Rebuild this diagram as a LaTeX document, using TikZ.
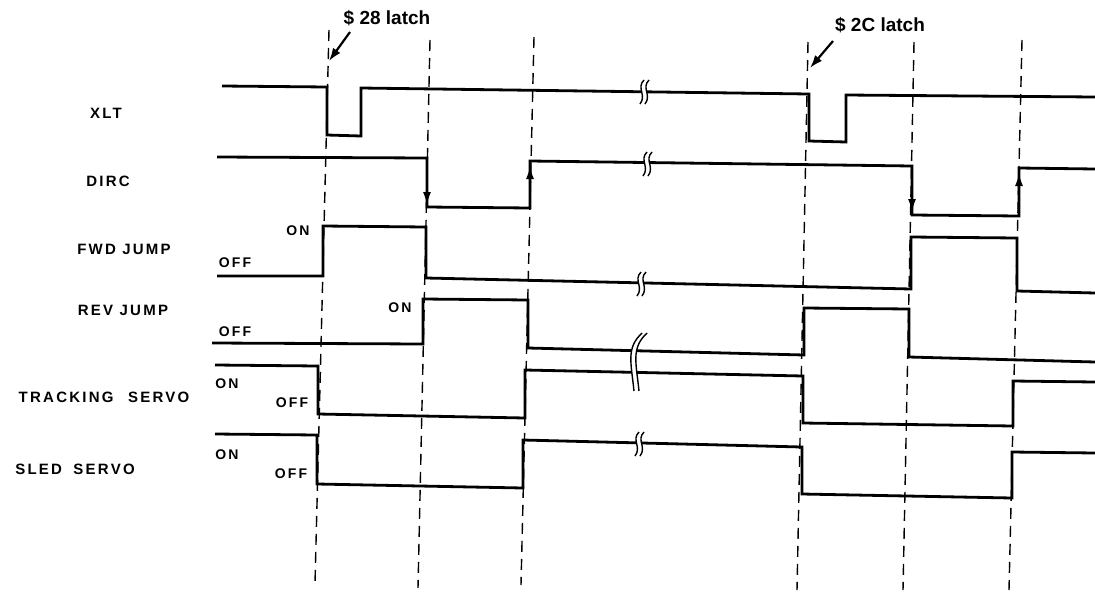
\documentclass[tikz,border=0pt]{standalone}
\usepackage{fontspec}
\setmainfont{Liberation Sans}
\newfontfamily\lblfont[LetterSpace=15]{Liberation Sans}
\usetikzlibrary{arrows.meta}
\begin{document}
\begin{tikzpicture}[x=1pt,y=-1pt,
  sig/.style={line width=2.8pt, line join=miter},
  guide/.style={line width=1.4pt, dash pattern=on 11pt off 7pt},
  lbl/.style={font=\lblfont\bfseries\fontsize{15}{17}\selectfont, inner sep=0pt},
  lvl/.style={font=\lblfont\bfseries\fontsize{14}{16}\selectfont, inner sep=0pt},
  latch/.style={font=\bfseries\fontsize{19}{21}\selectfont, inner sep=0pt},
  ptr/.style={line width=2.2pt, -{Latex[length=13pt,width=9pt]}},
  edgetip/.style={line width=1pt, -{Latex[length=12pt,width=8pt]}},
  brkline/.style={line width=1.4pt},
  brk/.pic={
    \fill[white] (2,-12) .. controls (-6,-4) and (5,3) .. (-2,12) -- (3,12) .. controls (10,3) and (-1,-4) .. (7,-12) -- cycle;
    \draw[brkline] (2,-12) .. controls (-6,-4) and (5,3) .. (-2,12);
    \draw[brkline] (7,-12) .. controls (-1,-4) and (10,3) .. (3,12);
  }
]
\useasboundingbox[fill=white] (0,0) rectangle (1095,603);

% guide lines
\coordinate (d1t) at (329,30);  \coordinate (d1b) at (315,583);
\coordinate (d2t) at (430,40);  \coordinate (d2b) at (418,588);
\coordinate (d3t) at (534,37);  \coordinate (d3b) at (521,585);
\coordinate (d4t) at (808,42);  \coordinate (d4b) at (797,590);
\coordinate (d5t) at (914,42);  \coordinate (d5b) at (903,590);
\coordinate (d6t) at (1022,40); \coordinate (d6b) at (1009,590);
\foreach \i in {1,...,6} { \draw[guide] (d\i t) -- (d\i b); }

% signal labels
\node[lbl] (xlt) at (106,113) {XLT};
\node[lbl] (dirc) at (108,181) {DIRC};
\node[lbl] (fwd) at (124,249) {FWD JUMP};
\node[lbl] (rev) at (123,310) {REV JUMP};
\node[lbl] (trk) at (104,397) {TRACKING\hspace{8pt} SERVO};
\node[lbl] (sled) at (75,469) {SLED\hspace{5pt} SERVO};

% level labels
\node[lvl] (fwdon) at (298,231) {ON};
\node[lvl] (fwdoff) at (235,263) {OFF};
\node[lvl] (revon) at (400,308) {ON};
\node[lvl] (revoff) at (235,332) {OFF};
\node[lvl] (trkon) at (227,384) {ON};
\node[lvl] (trkoff) at (292,403) {OFF};
\node[lvl] (sledon) at (227,455) {ON};
\node[lvl] (sledoff) at (291,474) {OFF};

% latch labels and pointers
\node[latch] (l28) at (387,18) {\$ 28 latch};
\node[latch] (l2c) at (880,25) {\$ 2C latch};
\coordinate (p28s) at (350,32); \coordinate (p28t) at (329,61);
\coordinate (p2cs) at (833,41); \coordinate (p2ct) at (810,68);
\draw[ptr] (p28s) -- (p28t);
\draw[ptr] (p2cs) -- (p2ct);

% XLT
\draw[sig] (222,86) -- (327,87) -- (327,135) -- (361,136) -- (361,88) -- (809,94)
  -- (809,141) -- (846,142) -- (846,95) -- (1095,97);
% DIRC
\draw[sig] (217,157) -- (427,158) -- (427,207) -- (530,208) -- (530,161) -- (912,166)
  -- (912,215) -- (1019,216) -- (1019,168) -- (1095,169);
\draw[edgetip] (427,185) -- (427,204);
\draw[edgetip] (530,192) -- (530,167);
\draw[edgetip] (912,192) -- (912,211);
\draw[edgetip] (1019,199) -- (1019,174);
% FWD JUMP
\draw[sig] (217,276) -- (323,276) -- (323,226) -- (426,227) -- (426,278) -- (911,289)
  -- (911,237) -- (1017,238) -- (1017,291) -- (1095,293);
% REV JUMP
\draw[sig] (212,343) -- (423,344) -- (423,299) -- (528,300) -- (528,348) -- (804,355)
  -- (804,308) -- (909,309) -- (909,357) -- (1095,362);
% TRACKING SERVO
\draw[sig] (215,365) -- (318,366) -- (318,414) -- (525,418) -- (525,370) -- (803,376)
  -- (803,423) -- (1013,426) -- (1013,381) -- (1095,382);
% SLED SERVO
\draw[sig] (215,434) -- (317,435) -- (317,484) -- (523,488) -- (523,440) -- (802,447)
  -- (802,494) -- (1012,498) -- (1012,452) -- (1095,453);

% break marks
\pic at (642,92) {brk};
\pic at (645,164) {brk};
\pic at (639,284) {brk};
\pic at (637,444) {brk};
\fill[white] (642,333) .. controls (626,348) and (631,362) .. (634,391) -- (639,391) .. controls (636,362) and (631,348) .. (647,333) -- cycle;
\draw[brkline] (642,333) .. controls (626,348) and (631,362) .. (634,391);
\draw[brkline] (647,333) .. controls (631,348) and (636,362) .. (639,391);
\end{tikzpicture}
\end{document}
